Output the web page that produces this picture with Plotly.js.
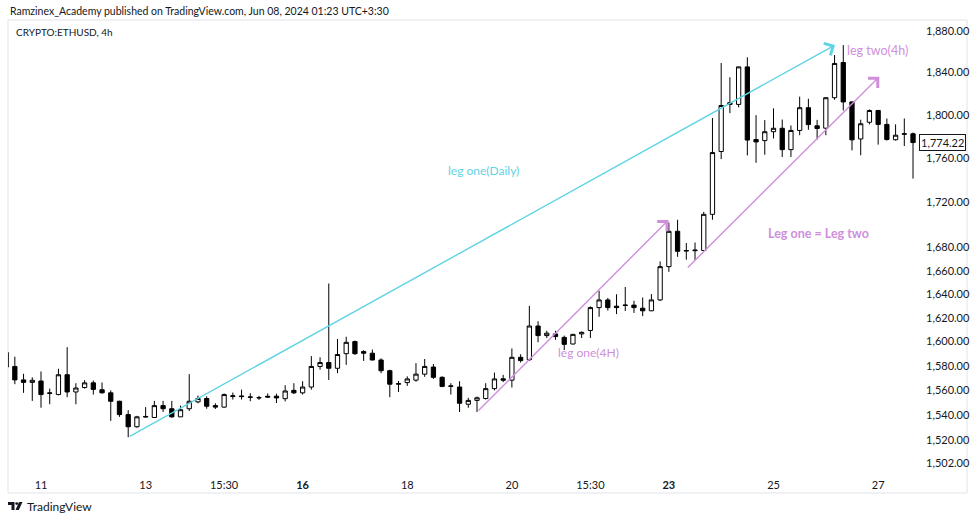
<!DOCTYPE html>
<html>
<head>
<meta charset="utf-8">
<script src="https://cdn.plot.ly/plotly-3.0.1.min.js"></script>
<style>
html,body{margin:0;padding:0;background:#fff;}
#chart{width:975px;height:520px;}
</style>
</head>
<body>
<div id="chart"></div>
<script>
// ---- DATA (CRYPTO:ETHUSD, 4h candles) ----
const openP = [1591,1579.5,1568.5,1566.5,1567.6,1557.5,1556.6,1572.7,1558.7,1562.3,1566.1,1560.5,1558,1551.2,1540.5,1530.8,1538.5,1538.2,1547.7,1545.2,1538.7,1545.2,1550.7,1553.4,1547.7,1546.5,1555,1555.5,1554.4,1553.9,1555.2,1555.3,1553.3,1560,1558,1562.7,1579.5,1582.7,1578,1590,1600,1591.7,1590.4,1584.8,1576,1565,1566.3,1568.3,1573.2,1579,1570.6,1563.2,1562.7,1548.8,1551.9,1553.4,1561.4,1569.4,1568.3,1587,1585,1613,1605,1606.4,1603.5,1598,1606.4,1609.3,1628.5,1635,1629.7,1630.3,1630.6,1628,1625.8,1635,1663.5,1694.3,1677,1677.3,1677.5,1709.3,1766,1811.3,1809.7,1845.3,1777,1776,1784.2,1787.4,1767.7,1785.4,1806.6,1789.7,1787.5,1816,1849.5,1812,1777.5,1793,1804,1791,1776.8,1781.8,1782.3];
const highP = [1593,1587.5,1573.5,1570.6,1575.4,1561.4,1577.6,1595.4,1565.8,1568.3,1568,1566.4,1560,1551.6,1544,1539.5,1546.5,1551.5,1551.5,1551.5,1547.7,1573.2,1555.8,1555.2,1549.6,1557.5,1558.2,1560.6,1557.7,1555.6,1557.5,1557.3,1564.2,1565.8,1567.4,1588,1587,1649,1602.2,1604,1600.8,1592.9,1593.4,1586.2,1576.8,1567.6,1571.4,1582.2,1585.6,1581.5,1571.4,1565.8,1567.4,1554,1555,1565.8,1574.5,1572.6,1594.3,1589.5,1630,1617,1609,1609,1605,1606.4,1608.5,1629.5,1642.8,1636.7,1639.8,1646,1634.3,1637,1640,1668,1702,1704.5,1684,1684.5,1711.5,1797,1849,1835.4,1845.5,1854.5,1799.6,1795,1806,1795.5,1790,1817,1815,1795.2,1816.5,1856.7,1866.3,1812.6,1795.4,1805,1804.5,1796.5,1791,1796.5,1783.5];
const lowP = [1578,1565,1558,1551.5,1546,1548.8,1556,1554.5,1548.8,1561.4,1556.6,1557.5,1535.5,1538.7,1522.5,1530,1538,1538,1542.6,1538,1538.5,1543.4,1549.6,1545.2,1545,1546,1552.6,1552.6,1551.2,1552.3,1554,1549.8,1551,1557,1556.6,1560.6,1576.8,1568.4,1574,1580.8,1589,1584,1584.5,1574,1554.5,1558.7,1563.6,1567,1571,1569.3,1562.6,1556.6,1542.6,1546,1542.6,1552.6,1560,1566.7,1562.3,1582.7,1584,1599.5,1603,1601.5,1593,1597.7,1603,1603,1620.8,1626,1623,1625.6,1624,1621.3,1625.5,1634,1659,1672,1669.5,1669,1677,1704.5,1759,1801.5,1807,1762.4,1755.7,1763,1778,1761,1761,1781,1786,1777,1781,1814,1804,1767,1762.5,1791,1772.3,1776,1776,1771,1741.3];
const closeP = [1579,1568.5,1566.5,1568.2,1556.6,1557.9,1572.7,1558.7,1561.9,1566.1,1560.8,1558,1551.2,1540.5,1530.8,1538.7,1539,1547.7,1545.2,1538.7,1544.4,1551.2,1553.4,1547.2,1546.5,1556.6,1555.6,1555,1554.6,1554.1,1554.6,1553.9,1559.5,1558,1562.7,1579.5,1582.7,1578,1589.3,1599.4,1590,1590.4,1584.8,1576,1565,1565.4,1569.3,1573.2,1579.5,1570.6,1563.2,1563.6,1549.6,1551.9,1554,1561.4,1569.3,1568.3,1587,1584.3,1613,1605,1607,1604.2,1597.7,1606,1607.7,1628.5,1635,1628.5,1628.5,1630.6,1628.5,1625.8,1635,1663.5,1694.3,1676.8,1677.5,1677.8,1709.3,1765,1808.7,1809.7,1845.3,1776.5,1774.8,1784.2,1787.4,1767.7,1785.4,1806.6,1790.8,1787.2,1816,1848.6,1812,1776.7,1791.6,1804,1791,1777,1781,1782.3,1774.22];
const firstBar = -4; // bar index of first candle (bar 0 = Oct 11 first bar)

// time axis labels (bar index -> label)
const timeTickBars = [0, 12, 21, 30, 42, 54, 63, 72, 84, 96];
const timeTickText = ['11', '13', '15:30', '<b>16</b>', '18', '20', '15:30', '<b>23</b>', '25', '27'];

// price axis labels
const priceTicks = [1880, 1840, 1800, 1760, 1720, 1680, 1660, 1640, 1620, 1600, 1580, 1560, 1540, 1520, 1502];
const priceTickText = ['1,880.00','1,840.00','1,800.00','1,760.00','1,720.00','1,680.00','1,660.00','1,640.00','1,620.00','1,600.00','1,580.00','1,560.00','1,540.00','1,520.00','1,502.00'];
const lastPrice = 1774.22;

// drawn legs: [startBar, startPrice, endBar, endPrice]
const legDaily = [10, 1522.5, 91.05, 1866.4];
const legOne4h = [50, 1542.6, 71.96, 1704.3];
const legTwo4h = [74, 1661.5, 96.13, 1835.9];

// text labels: [bar, price, text]
const labelDaily = [50.7, 1748.2, 'leg one(Daily)'];
const labelOne4h = [62.84, 1590.6, 'leg one(4H)'];
const labelTwo4h = [95.87, 1861.5, 'leg two(4h)'];
const labelEq = [89.2, 1692, 'Leg one = Leg two'];

// ---- CHART ----
const bars = openP.map((_, i) => firstBar + i);
const L10 = Math.log10;
const CYAN = '#5fd4e4';
const PURPLE = '#cf8fdc';
const TXT = '#131722';
const FONT = 'Lato, "Open Sans", sans-serif';

// pixel -> paper helpers for decorations outside plot area
const PL = 8, PW = 910, PT = 20, PH = 454;
const px = v => (v - PL) / PW;
const py = v => (PT + PH - v) / PH;

const trace = {
  type: 'candlestick',
  x: bars, open: openP, high: highP, low: lowP, close: closeP,
  increasing: {line: {color: '#000', width: 1}, fillcolor: '#ffffff'},
  decreasing: {line: {color: '#000', width: 1}, fillcolor: '#000000'},
  whiskerwidth: 0,
  hoverinfo: 'skip',
  showlegend: false
};

function legArrow(leg, color) {
  return {
    x: leg[2], y: L10(leg[3]), ax: leg[0], ay: L10(leg[1]),
    xref: 'x', yref: 'y', axref: 'x', ayref: 'y',
    text: '', showarrow: true, arrowhead: 4, arrowsize: 1.9, arrowwidth: 1.4,
    arrowcolor: color, standoff: 0, startstandoff: 0
  };
}
function legLabel(lb, color, size, bold) {
  return {
    x: lb[0], y: L10(lb[1]), xref: 'x', yref: 'y',
    text: bold ? '<b>' + lb[2] + '</b>' : lb[2], showarrow: false,
    font: {family: FONT, size: size, color: color},
    xanchor: 'center', yanchor: 'middle'
  };
}

const layout = {
  width: 975, height: 520,
  margin: {l: PL, r: 975 - PL - PW, t: PT, b: 520 - PT - PH, pad: 0},
  paper_bgcolor: '#ffffff', plot_bgcolor: '#ffffff',
  font: {family: FONT, color: TXT, size: 11},
  dragmode: false,
  xaxis: {
    range: [-3.784, 100.57], rangeslider: {visible: false},
    tickmode: 'array', tickvals: timeTickBars, ticktext: timeTickText,
    showgrid: false, zeroline: false, showline: false, ticks: '',
    ticklabelstandoff: 3,
    tickfont: {family: FONT, size: 11, color: TXT}, fixedrange: true
  },
  yaxis: {
    type: 'log', range: [3.174266, 3.276638], side: 'right',
    tickmode: 'array', tickvals: priceTicks, ticktext: priceTickText,
    showgrid: false, zeroline: false, showline: false, ticks: '',
    ticklabelstandoff: 7,
    tickfont: {family: FONT, size: 11, color: TXT}, fixedrange: true
  },
  shapes: [
    {type: 'rect', xref: 'paper', yref: 'paper', x0: px(8), x1: px(967), y0: py(493), y1: py(20),
     line: {color: '#e0e3eb', width: 1}, fillcolor: 'rgba(0,0,0,0)', layer: 'below'},
    // TradingView logo
    {type: 'path', xref: 'paper', yref: 'paper',
     path: `M${px(8)},${py(502)} L${px(14.5)},${py(502)} L${px(14.5)},${py(510)} L${px(11.5)},${py(510)} L${px(11.5)},${py(505)} L${px(8)},${py(505)} Z`,
     fillcolor: TXT, line: {width: 0}},
    {type: 'circle', xref: 'paper', yref: 'paper', x0: px(15.3), x1: px(18.1), y0: py(505), y1: py(502.2),
     fillcolor: TXT, line: {width: 0}},
    {type: 'path', xref: 'paper', yref: 'paper',
     path: `M${px(19)},${py(502)} L${px(22.5)},${py(502)} L${px(18.8)},${py(510)} L${px(15.5)},${py(510)} Z`,
     fillcolor: TXT, line: {width: 0}}
  ],
  annotations: [
    {xref: 'paper', yref: 'paper', x: px(8), y: py(11.5), xanchor: 'left', yanchor: 'middle', showarrow: false,
     text: 'Ramzinex_Academy published on TradingView.com, Jun 08, 2024 01:23 UTC+3:30',
     font: {family: FONT, size: 10.5, color: TXT}},
    {xref: 'paper', yref: 'paper', x: px(14), y: py(31.5), xanchor: 'left', yanchor: 'middle', showarrow: false,
     text: 'CRYPTO:ETHUSD, 4h', font: {family: FONT, size: 10, color: TXT}},
    {xref: 'paper', yref: 'paper', x: px(25), y: py(506.5), xanchor: 'left', yanchor: 'middle', showarrow: false,
     text: 'TradingView', font: {family: FONT, size: 12, color: TXT}},
    {xref: 'paper', yref: 'y', x: 1, y: L10(lastPrice), xanchor: 'left', yanchor: 'middle', xshift: 1,
     showarrow: false, text: '1,774.22', bgcolor: '#ffffff', bordercolor: TXT, borderwidth: 1, borderpad: 1,
     font: {family: FONT, size: 11, color: TXT}},
    legArrow(legDaily, CYAN),
    legArrow(legOne4h, PURPLE),
    legArrow(legTwo4h, PURPLE),
    legLabel(labelDaily, CYAN, 12, false),
    legLabel(labelOne4h, PURPLE, 12, false),
    legLabel(labelTwo4h, PURPLE, 12.5, false),
    legLabel(labelEq, PURPLE, 12.5, true)
  ]
};

Plotly.newPlot('chart', [trace], layout, {displayModeBar: false, staticPlot: true});
</script>
</body>
</html>
